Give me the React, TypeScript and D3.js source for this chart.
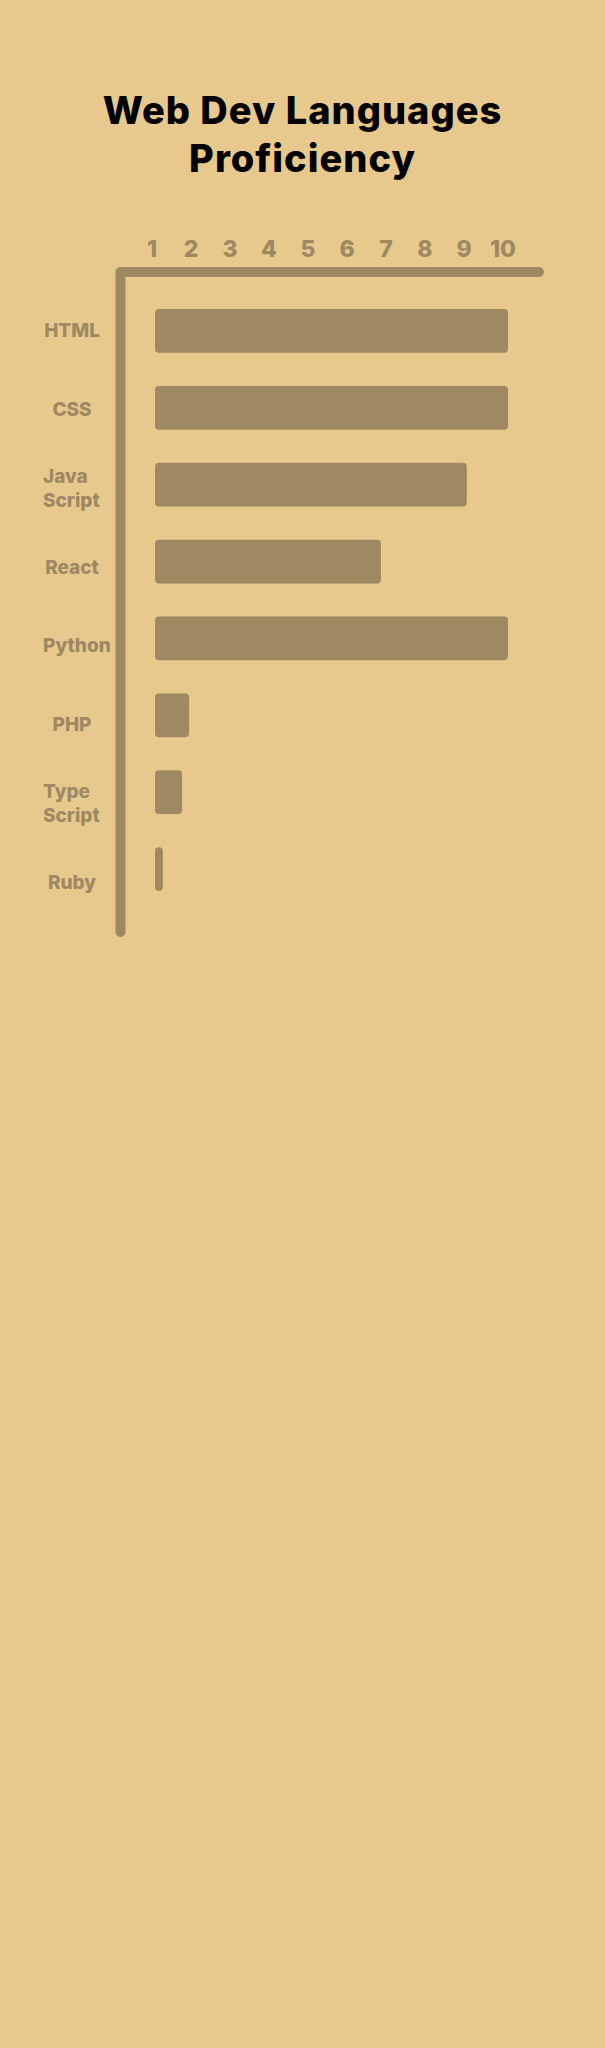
import React, { useEffect, useRef } from 'react';
import * as d3 from 'd3';

// chart values
const languages = ['HTML', 'CSS', 'Java\nScript', 'React', 'Python', 'PHP', 'Type\nScript', 'Ruby'];
const proficiency = [10, 10, 8.95, 6.76, 10, 1.87, 1.69, 1.2];
const tickLabels = [1, 2, 3, 4, 5, 6, 7, 8, 9, 10];
const titleLines = ['Web Dev Languages', 'Proficiency'];

const BG = '#E8C98D';
const BROWN = '#9E8963';
const FONT = 'Inter, "Noto Sans", sans-serif';

const App = () => {
    const ref = useRef<SVGSVGElement | null>(null);

    useEffect(() => {
        document.body.style.margin = '0';
        drawChart();
    }, []);

    const drawChart = () => {
        const svg = d3.select(ref.current);
        svg.selectAll('*').remove();

        const width = 605;
        const height = 2048;

        svg.append('rect')
            .attr('width', width)
            .attr('height', height)
            .attr('fill', BG);

        // title
        svg.append('g')
            .selectAll('text')
            .data(titleLines)
            .enter()
            .append('text')
            .attr('x', width / 2)
            .attr('y', (d, i) => 124 + i * 47.5)
            .attr('text-anchor', 'middle')
            .attr('font-family', FONT)
            .attr('font-weight', 800)
            .attr('font-size', 38)
            .attr('letter-spacing', 1)
            .attr('fill', '#000')
            .text(d => d);

        const data = languages.map((name, i) => ({ name, value: proficiency[i] }));

        // bars start at value 1
        const xScale = d3.scaleLinear()
            .domain([1, 10])
            .range([155, 508]);

        const tickScale = d3.scaleLinear()
            .domain([1, 10])
            .range([152, 503]);

        const yScale = d3.scaleBand()
            .domain(languages)
            .range([309, 891])
            .paddingInner(0.431)
            .paddingOuter(0);

        const labelScale = d3.scalePoint()
            .domain(languages)
            .range([330, 882]);

        // axis frame
        svg.append('path')
            .attr('d', `M120.5,932 V272 H539`)
            .attr('fill', 'none')
            .attr('stroke', BROWN)
            .attr('stroke-width', 10)
            .attr('stroke-linecap', 'round')
            .attr('stroke-linejoin', 'round');

        // tick labels on top
        svg.append('g')
            .selectAll('text')
            .data(tickLabels)
            .enter()
            .append('text')
            .attr('x', d => tickScale(d))
            .attr('y', 257)
            .attr('text-anchor', 'middle')
            .attr('font-family', FONT)
            .attr('font-weight', 800)
            .attr('font-size', 23)
            .attr('fill', BROWN)
            .text(d => d);

        svg.selectAll('.bar')
            .data(data)
            .enter()
            .append('rect')
            .attr('class', 'bar')
            .attr('x', xScale(1))
            .attr('y', d => yScale(d.name))
            .attr('width', d => xScale(d.value) - xScale(1))
            .attr('height', yScale.bandwidth())
            .attr('rx', 4)
            .attr('fill', BROWN);

        // category labels
        const labels = svg.append('g')
            .selectAll('text')
            .data(data)
            .enter()
            .append('text')
            .attr('font-family', FONT)
            .attr('font-weight', 800)
            .attr('font-size', 19)
            .attr('fill', BROWN)
            .attr('text-anchor', 'middle');

        labels.each(function (d) {
            const lines = d.name.split('\n');
            const cy = labelScale(d.name);
            const lh = 24;
            const t = d3.select(this);
            lines.forEach((line, i) => {
                t.append('tspan')
                    .attr('x', 72)
                    .attr('y', cy + 7 + (i - (lines.length - 1) / 2) * lh)
                    .text(line);
            });
        });

        // wide labels hang from the left edge instead of centering
        labels.each(function () {
            const node = this as SVGTextElement;
            if (node.getComputedTextLength() > 62) {
                d3.select(node).attr('text-anchor', 'start')
                    .selectAll('tspan').attr('x', 43);
            }
        });
    };

    return <svg ref={ref} width={605} height={2048} style={{ display: 'block' }}></svg>;
};

export default App;
